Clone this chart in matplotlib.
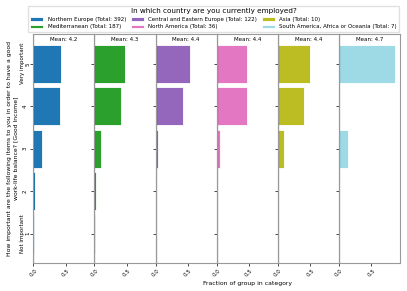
import matplotlib.pyplot as plt
import numpy as np

groups = ["Northern Europe", "Mediterranean", "Central and Eastern Europe",
          "North America", "Asia", "South America, Africa or Oceania"]
totals = [392, 187, 122, 36, 10, 7]
answers = [1, 2, 3, 4, 5]
answer_labels = ["Not important\n1", "2", "3", "4", "Very important\n5"]

# fraction of each group per answer (1..5)
frac_north = [0.008, 0.02, 0.128, 0.411, 0.433]
frac_med = [0.005, 0.016, 0.096, 0.412, 0.471]
frac_cee = [0.008, 0.008, 0.041, 0.418, 0.525]
frac_na = [0.0, 0.0, 0.056, 0.472, 0.472]
frac_asia = [0.0, 0.0, 0.1, 0.4, 0.5]
frac_other = [0.0, 0.0, 0.143, 0.0, 0.857]
fractions = [frac_north, frac_med, frac_cee, frac_na, frac_asia, frac_other]

colors = ["#1f77b4", "#2ca02c", "#9467bd", "#e377c2", "#bcbd22", "#9edae5"]

fig, axes = plt.subplots(1, len(groups), sharex=True, sharey=True, figsize=(4.07, 2.91), dpi=100)
fig.subplots_adjust(left=0.082, right=0.983, top=0.883, bottom=0.095, wspace=0)

xmax = max(max(f) for f in fractions) * 1.1
handles = []
for i, ax in enumerate(axes):
    vals = np.array(fractions[i])
    h = ax.barh(answers, vals, height=0.9, color=colors[i], edgecolor="white", linewidth=0.6)
    handles.append(h)
    mean = (np.array(answers) * vals).sum() / vals.sum()
    ax.text(0.5, 0.977, f"Mean: {mean:.1f}", transform=ax.transAxes, ha="center", va="center", fontsize=4)
    ax.axvline(0, color="black", linewidth=0.8)
    for s in ax.spines.values():
        s.set_color("0.6")
        s.set_linewidth(0.8)
    ax.set_xlim(0, xmax)
    ax.set_ylim(0.3, 5.7)
    ax.set_xticks([0.0, 0.5])
    ax.set_xticklabels(["0.0", "0.5"], rotation=45, fontsize=4)
    ax.tick_params(axis="both", length=2, width=0.5, pad=1.5)
    ax.set_yticks(answers)

axes[0].set_yticklabels(answer_labels, rotation=90, va="center", ha="center", fontsize=4, multialignment="center")
axes[0].tick_params(axis="y", pad=4)
axes[0].set_ylabel("How important are the following items to you in order to have a good\nwork-life balance? [Good Income]", fontsize=4.4, labelpad=1)
axes[len(groups) // 2].set_xlabel("Fraction of group in category", fontsize=4.4, labelpad=2)

labels = [f"{g} (Total: {t})" for g, t in zip(groups, totals)]
fig.legend(handles, labels, title="In which country are you currently employed?", ncol=3,
           loc="upper center", bbox_to_anchor=(0.525, 0.99), fontsize=4, title_fontsize=5.2,
           handlelength=2.3, handleheight=0.7, columnspacing=0.9, labelspacing=0.5, borderpad=0.4,
           handletextpad=0.8, frameon=True, fancybox=False, edgecolor="0.85")

fig.savefig("out.png", dpi=100)
